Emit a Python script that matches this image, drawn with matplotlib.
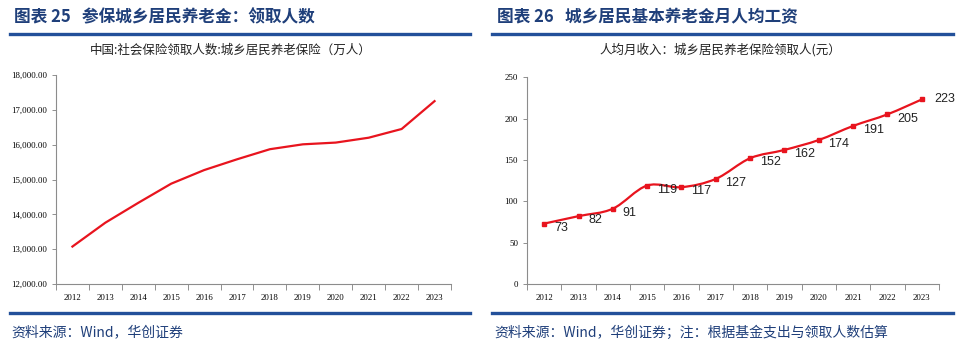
import numpy as np
import matplotlib
matplotlib.use("Agg")
import matplotlib.pyplot as plt
from matplotlib.path import Path
from matplotlib.patches import PathPatch

plt.rcParams["font.family"] = ["Noto Sans CJK SC", "DejaVu Sans"]

years = ["2012", "2013", "2014", "2015", "2016", "2017",
         "2018", "2019", "2020", "2021", "2022", "2023"]
# 领取人数（万人）
receivers = [13075, 13760, 14330, 14880, 15270, 15580,
             15870, 16010, 16060, 16200, 16450, 17250]
# 人均月收入（元）
monthly_pay = [73, 82, 91, 119, 117, 127, 152, 162, 174, 191, 205, 223]

left_head = "图表 25   参保城乡居民养老金：领取人数"
right_head = "图表 26   城乡居民基本养老金月人均工资"
left_title = "中国:社会保险领取人数:城乡居民养老保险（万人）"
right_title = "人均月收入：城乡居民养老保险领取人(元）"
left_src = "资料来源：Wind，华创证券"
right_src = "资料来源：Wind，华创证券；注：根据基金支出与领取人数估算"

red = "#E8141E"
navy = "#1F3F7A"
rule = "#23509A"
serif = "Liberation Serif"

fig = plt.figure(figsize=(9.6, 3.53), dpi=100)


def header(x0, x1, text):
    fig.text(x0 + 0.005, 0.952, text, color=navy, fontsize=12, fontweight="bold",
             va="center", ha="left")
    fig.add_artist(plt.Line2D([x0, x1], [0.905, 0.905], color=rule, lw=2.4))
    fig.add_artist(plt.Line2D([x0, x1], [0.113, 0.113], color=rule, lw=2.4))


def style_axes(ax):
    n = len(years)
    x = np.arange(n)
    ax.set_xlim(-0.5, n - 0.5)
    ax.set_xticks(x)
    ax.set_xticklabels(years, fontfamily=serif, fontsize=6.3)
    ax.set_xticks(np.arange(-0.5, n), minor=True)
    ax.tick_params(axis="x", which="major", length=0, pad=7)
    ax.tick_params(axis="x", which="minor", length=4, width=0.6, color="#7f7f7f")
    ax.tick_params(axis="y", length=3, width=0.6, color="#7f7f7f", labelsize=6.3)
    for lab in ax.get_yticklabels():
        lab.set_fontfamily(serif)
    for s in ["top", "right"]:
        ax.spines[s].set_visible(False)
    for s in ["left", "bottom"]:
        ax.spines[s].set_color("#8c8c8c")
        ax.spines[s].set_linewidth(0.8)


# left panel
header(0.010, 0.490, left_head)
axl = fig.add_axes([0.0583, 0.1955, 0.4115, 0.592])
xl = np.arange(len(years))
axl.plot(xl, receivers, color=red, lw=1.6, solid_joinstyle="round")
axl.set_ylim(12000, 18000)
axl.set_yticks(np.arange(12000, 18001, 1000))
axl.set_yticklabels([f"{v:,.2f}" for v in np.arange(12000, 18001, 1000)])
style_axes(axl)
fig.text(0.240, 0.858, left_title, ha="center", va="center", fontsize=9,
         color="#222222")
fig.text(0.012, 0.058, left_src, ha="left", va="center", fontsize=10,
         color=navy, style="italic")

# right panel
header(0.513, 0.993, right_head)
axr = fig.add_axes([0.549, 0.1955, 0.429, 0.586])
xr = np.arange(len(years))
yr = np.array(monthly_pay, dtype=float)

# smoothed line (Catmull-Rom as cubic Bezier segments)
verts = [(xr[0], yr[0])]
codes = [Path.MOVETO]
for i in range(len(xr) - 1):
    p0 = np.array([xr[max(i - 1, 0)], yr[max(i - 1, 0)]])
    p1 = np.array([xr[i], yr[i]])
    p2 = np.array([xr[i + 1], yr[i + 1]])
    p3 = np.array([xr[min(i + 2, len(xr) - 1)], yr[min(i + 2, len(xr) - 1)]])
    c1 = p1 + (p2 - p0) / 6.0
    c2 = p2 - (p3 - p1) / 6.0
    verts += [tuple(c1), tuple(c2), tuple(p2)]
    codes += [Path.CURVE4] * 3
axr.add_patch(PathPatch(Path(verts, codes), fill=False, edgecolor=red, lw=1.6))
axr.plot(xr, yr, ls="none", marker="s", ms=3.2, color=red)
for i, v in enumerate(monthly_pay):
    off = (9, 0) if i == len(monthly_pay) - 1 else (7, -3)
    axr.annotate(str(v), (xr[i], v), xytext=off, textcoords="offset points",
                 ha="left", va="center", fontsize=9, fontfamily="Liberation Sans",
                 color="#222222")
axr.set_ylim(0, 250)
axr.set_yticks(np.arange(0, 251, 50))
style_axes(axr)
fig.text(0.750, 0.858, right_title, ha="center", va="center", fontsize=9,
         color="#222222")
fig.text(0.515, 0.058, right_src, ha="left", va="center", fontsize=10,
         color=navy, style="italic")

fig.savefig("out.png", dpi=100)
